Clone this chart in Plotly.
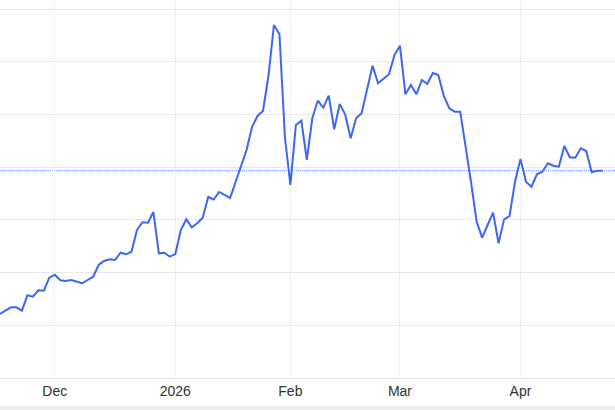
import pandas as pd
import plotly.graph_objects as go

# ---- data ----
first_day = "2025-11-17"
last_day = "2026-04-22"
holidays = ["2025-12-25", "2026-01-01"]

values = [
    112.14, 112.71, 113.41, 113.41, 112.77, 115.69, 115.42, 116.64, 116.56, 119.03,
    119.60, 118.54, 118.40, 118.59, 118.31, 117.97, 118.59, 119.22, 121.44, 122.20,
    122.52, 122.39, 123.77, 123.47, 123.96, 128.08, 129.54, 129.46, 131.49, 123.66,
    123.77, 123.01, 123.52, 128.08, 130.11, 128.59, 129.35, 130.41, 134.34, 133.86,
    135.29, 134.72, 134.15, 137.18, 140.22, 143.26, 147.62, 149.71, 150.65, 157.29,
    166.97, 165.26, 145.72, 136.62, 148.00, 148.81, 141.36, 149.27, 152.61, 151.28,
    153.56, 147.18, 151.98, 150.03, 145.48, 149.27, 150.22, 154.73, 159.25, 155.91,
    156.86, 157.62, 161.28, 163.04, 153.82, 155.59, 153.82, 156.54, 155.78, 157.86,
    157.48, 153.50, 151.17, 150.52, 150.52, 144.01, 136.99, 129.65, 126.62, 129.03,
    131.36, 125.55, 130.11, 130.73, 137.24, 141.55, 137.24, 136.29, 138.65, 139.14,
    140.73, 140.28, 140.09, 144.01, 141.87, 141.79, 143.58, 143.07, 139.02, 139.33,
    139.33,
]

tick_dates = ["2025-12-01", "2026-01-02", "2026-02-02", "2026-03-02", "2026-04-01"]
tick_labels = ["Dec", "2026", "Feb", "Mar", "Apr"]
y_grid = [100, 110, 120, 130, 140, 150, 160, 170]

dates = [d for d in pd.bdate_range(first_day, last_day) if d.strftime("%Y-%m-%d") not in holidays]

fig = go.Figure()
fig.add_trace(go.Scatter(
    x=dates, y=values, mode="lines",
    line=dict(color="#3d66f5", width=2),
    hoverinfo="skip",
))

fig.add_shape(
    type="line", xref="paper", x0=0, x1=1, yref="y",
    y0=values[-1], y1=values[-1],
    line=dict(color="#6d8cf7", width=1, dash="1px,1px"),
    layer="below",
)
# light band at the very bottom
fig.add_shape(
    type="rect", xref="paper", yref="paper", x0=0, x1=1, y0=-0.1, y1=-0.074,
    fillcolor="#ededed", line=dict(width=0), layer="below",
)

fig.update_layout(
    width=615, height=410,
    margin=dict(l=0, r=0, t=0, b=32, pad=0),
    paper_bgcolor="white", plot_bgcolor="white",
    showlegend=False,
    font=dict(family="Liberation Sans, Arial, sans-serif", size=14, color="#333333"),
)

fig.update_xaxes(
    range=["2025-11-17", "2026-04-24 06:00"],
    rangebreaks=[dict(bounds=["sat", "mon"]), dict(values=holidays)],
    tickmode="array", tickvals=tick_dates, ticktext=tick_labels,
    showgrid=True, gridcolor="#eef2f5", gridwidth=1,
    showline=True, linecolor="#e3e3e3", linewidth=1,
    ticks="", zeroline=False,
    tickfont=dict(size=14, color="#333333"),
)
fig.update_yaxes(
    range=[100, 100 + 378 / 5.271],
    tickmode="array", tickvals=y_grid,
    showticklabels=False, showgrid=True, gridcolor="#e8e8e8", gridwidth=1,
    zeroline=False, showline=False, ticks="",
)

fig.write_html(
    "out.html",
    config={"displayModeBar": False},
    post_script="document.body.style.margin='0';document.body.style.overflow='hidden';",
)
